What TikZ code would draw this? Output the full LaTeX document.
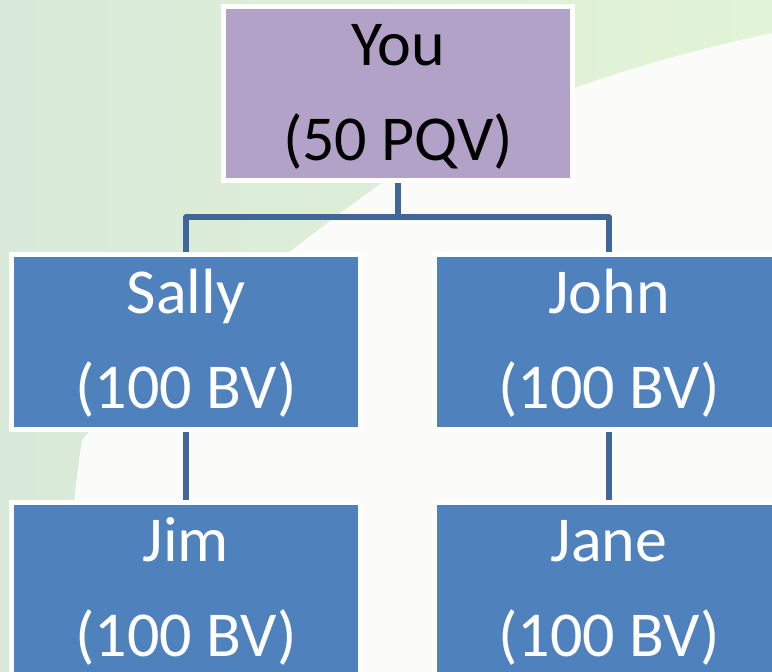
\documentclass[tikz,border=0pt]{standalone}
\usepackage{fontspec}
\setmainfont{Carlito}
\definecolor{youPurple}{HTML}{B3A2C7}
\definecolor{boxBlue}{HTML}{4F81BD}
\definecolor{linkBlue}{HTML}{41679A}
\definecolor{bgGreen}{HTML}{E2F4D7}
\definecolor{bgGrey}{HTML}{D9E9D9}
\definecolor{bgWhite}{HTML}{FBFCFA}
\newcommand{\firstline}{\rule{0pt}{47pt}}

\begin{document}
\begin{tikzpicture}[x=1pt, y=-1pt,
    memberStyle/.style={rectangle, draw=white, line width=5pt, fill=boxBlue, text=white,
        minimum width=349pt, minimum height=175pt, inner sep=0pt, align=center,
        font=\fontsize{64}{95}\selectfont},
    youStyle/.style={memberStyle, fill=youPurple, text=black, minimum height=174pt},
    linkStyle/.style={draw=linkBlue, line width=5.5pt, line join=round}]
    % page and background
    \useasboundingbox (0,0) rectangle (772,672);
    \clip (0,0) rectangle (772,672);
    \fill[bgWhite] (0,0) rectangle (772,672);
    \shade[left color=bgGrey, right color=bgGreen] (0,0) -- (772,0) -- (772,33)
        .. controls (620,65) and (480,115) .. (383,182)
        .. controls (300,240) and (150,360) .. (82,440)
        .. controls (72,500) and (66,600) .. (62,672) -- (0,672) -- cycle;

    \node[youStyle](you) at (398, 93.5) {\firstline You\\(50 PQV)};
    \node[memberStyle](sally) at (186, 342) {\firstline Sally\\(100 BV)};
    \node[memberStyle](john) at (609, 342) {\firstline John\\(100 BV)};
    \node[memberStyle](jim) at (186, 590) {\firstline Jim\\(100 BV)};
    \node[memberStyle](jane) at (609, 590) {\firstline Jane\\(100 BV)};
    \coordinate (fork) at (398, 217);

    \draw[linkStyle] (you) -- (fork) -| (sally);
    \draw[linkStyle] (fork) -| (john);
    \draw[linkStyle] (sally) -- (jim);
    \draw[linkStyle] (john) -- (jane);
\end{tikzpicture}
\end{document}
